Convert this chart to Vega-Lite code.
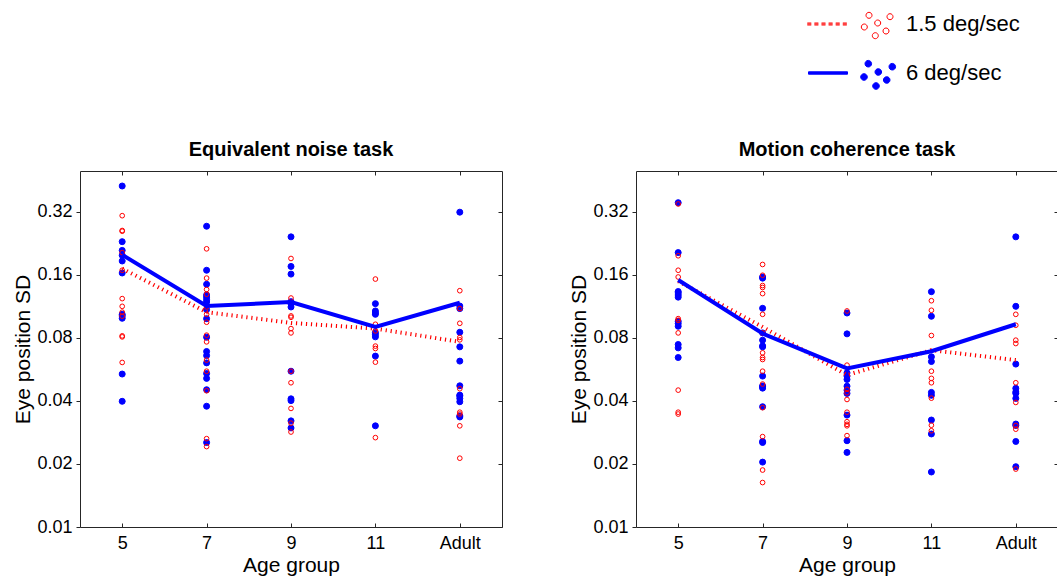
{
"$schema": "https://vega.github.io/schema/vega-lite/v6.json",
"padding": {"left": 12, "top": 13, "right": 0, "bottom": 0},
"datasets": {
"pts": [
{"task":"EN","age":"5","speed":"6 deg/sec","sd":0.424},{"task":"EN","age":"5","speed":"6 deg/sec","sd":0.23},{"task":"EN","age":"5","speed":"6 deg/sec","sd":0.209},{"task":"EN","age":"5","speed":"6 deg/sec","sd":0.198},{"task":"EN","age":"5","speed":"6 deg/sec","sd":0.186},{"task":"EN","age":"5","speed":"6 deg/sec","sd":0.163},{"task":"EN","age":"5","speed":"6 deg/sec","sd":0.1035},{"task":"EN","age":"5","speed":"6 deg/sec","sd":0.1017},{"task":"EN","age":"5","speed":"6 deg/sec","sd":0.0991},{"task":"EN","age":"5","speed":"6 deg/sec","sd":0.0537},{"task":"EN","age":"5","speed":"6 deg/sec","sd":0.0398},
{"task":"EN","age":"7","speed":"6 deg/sec","sd":0.2725},{"task":"EN","age":"7","speed":"6 deg/sec","sd":0.168},{"task":"EN","age":"7","speed":"6 deg/sec","sd":0.144},{"task":"EN","age":"7","speed":"6 deg/sec","sd":0.128},{"task":"EN","age":"7","speed":"6 deg/sec","sd":0.125},{"task":"EN","age":"7","speed":"6 deg/sec","sd":0.1216},{"task":"EN","age":"7","speed":"6 deg/sec","sd":0.1185},{"task":"EN","age":"7","speed":"6 deg/sec","sd":0.109},{"task":"EN","age":"7","speed":"6 deg/sec","sd":0.0987},{"task":"EN","age":"7","speed":"6 deg/sec","sd":0.0805},{"task":"EN","age":"7","speed":"6 deg/sec","sd":0.0688},{"task":"EN","age":"7","speed":"6 deg/sec","sd":0.0658},{"task":"EN","age":"7","speed":"6 deg/sec","sd":0.0607},{"task":"EN","age":"7","speed":"6 deg/sec","sd":0.054},{"task":"EN","age":"7","speed":"6 deg/sec","sd":0.0512},{"task":"EN","age":"7","speed":"6 deg/sec","sd":0.0452},{"task":"EN","age":"7","speed":"6 deg/sec","sd":0.0377},{"task":"EN","age":"7","speed":"6 deg/sec","sd":0.0253},
{"task":"EN","age":"9","speed":"6 deg/sec","sd":0.2425},{"task":"EN","age":"9","speed":"6 deg/sec","sd":0.1752},{"task":"EN","age":"9","speed":"6 deg/sec","sd":0.161},{"task":"EN","age":"9","speed":"6 deg/sec","sd":0.119},{"task":"EN","age":"9","speed":"6 deg/sec","sd":0.1164},{"task":"EN","age":"9","speed":"6 deg/sec","sd":0.1122},{"task":"EN","age":"9","speed":"6 deg/sec","sd":0.0554},{"task":"EN","age":"9","speed":"6 deg/sec","sd":0.0409},{"task":"EN","age":"9","speed":"6 deg/sec","sd":0.0401},{"task":"EN","age":"9","speed":"6 deg/sec","sd":0.0321},{"task":"EN","age":"9","speed":"6 deg/sec","sd":0.0297},
{"task":"EN","age":"11","speed":"6 deg/sec","sd":0.1164},{"task":"EN","age":"11","speed":"6 deg/sec","sd":0.1074},{"task":"EN","age":"11","speed":"6 deg/sec","sd":0.105},{"task":"EN","age":"11","speed":"6 deg/sec","sd":0.1035},{"task":"EN","age":"11","speed":"6 deg/sec","sd":0.0847},{"task":"EN","age":"11","speed":"6 deg/sec","sd":0.0829},{"task":"EN","age":"11","speed":"6 deg/sec","sd":0.0808},{"task":"EN","age":"11","speed":"6 deg/sec","sd":0.0654},{"task":"EN","age":"11","speed":"6 deg/sec","sd":0.0304},
{"task":"EN","age":"Adult","speed":"6 deg/sec","sd":0.318},{"task":"EN","age":"Adult","speed":"6 deg/sec","sd":0.1134},{"task":"EN","age":"Adult","speed":"6 deg/sec","sd":0.1102},{"task":"EN","age":"Adult","speed":"6 deg/sec","sd":0.085},{"task":"EN","age":"Adult","speed":"6 deg/sec","sd":0.0724},{"task":"EN","age":"Adult","speed":"6 deg/sec","sd":0.0619},{"task":"EN","age":"Adult","speed":"6 deg/sec","sd":0.0472},{"task":"EN","age":"Adult","speed":"6 deg/sec","sd":0.0426},{"task":"EN","age":"Adult","speed":"6 deg/sec","sd":0.0422},{"task":"EN","age":"Adult","speed":"6 deg/sec","sd":0.0411},{"task":"EN","age":"Adult","speed":"6 deg/sec","sd":0.0396},{"task":"EN","age":"Adult","speed":"6 deg/sec","sd":0.0339},{"task":"EN","age":"Adult","speed":"6 deg/sec","sd":0.0335},
{"task":"EN","age":"5","speed":"1.5 deg/sec","sd":0.306},{"task":"EN","age":"5","speed":"1.5 deg/sec","sd":0.26},{"task":"EN","age":"5","speed":"1.5 deg/sec","sd":0.258},{"task":"EN","age":"5","speed":"1.5 deg/sec","sd":0.204},{"task":"EN","age":"5","speed":"1.5 deg/sec","sd":0.168},{"task":"EN","age":"5","speed":"1.5 deg/sec","sd":0.123},{"task":"EN","age":"5","speed":"1.5 deg/sec","sd":0.113},{"task":"EN","age":"5","speed":"1.5 deg/sec","sd":0.106},{"task":"EN","age":"5","speed":"1.5 deg/sec","sd":0.1015},{"task":"EN","age":"5","speed":"1.5 deg/sec","sd":0.0817},{"task":"EN","age":"5","speed":"1.5 deg/sec","sd":0.0808},{"task":"EN","age":"5","speed":"1.5 deg/sec","sd":0.061},
{"task":"EN","age":"7","speed":"1.5 deg/sec","sd":0.2126},{"task":"EN","age":"7","speed":"1.5 deg/sec","sd":0.1541},{"task":"EN","age":"7","speed":"1.5 deg/sec","sd":0.136},{"task":"EN","age":"7","speed":"1.5 deg/sec","sd":0.129},{"task":"EN","age":"7","speed":"1.5 deg/sec","sd":0.1122},{"task":"EN","age":"7","speed":"1.5 deg/sec","sd":0.1035},{"task":"EN","age":"7","speed":"1.5 deg/sec","sd":0.0949},{"task":"EN","age":"7","speed":"1.5 deg/sec","sd":0.0823},{"task":"EN","age":"7","speed":"1.5 deg/sec","sd":0.0765},{"task":"EN","age":"7","speed":"1.5 deg/sec","sd":0.0626},{"task":"EN","age":"7","speed":"1.5 deg/sec","sd":0.0554},{"task":"EN","age":"7","speed":"1.5 deg/sec","sd":0.0447},{"task":"EN","age":"7","speed":"1.5 deg/sec","sd":0.0264},{"task":"EN","age":"7","speed":"1.5 deg/sec","sd":0.0242},
{"task":"EN","age":"9","speed":"1.5 deg/sec","sd":0.1912},{"task":"EN","age":"9","speed":"1.5 deg/sec","sd":0.1238},{"task":"EN","age":"9","speed":"1.5 deg/sec","sd":0.1017},{"task":"EN","age":"9","speed":"1.5 deg/sec","sd":0.1002},{"task":"EN","age":"9","speed":"1.5 deg/sec","sd":0.0885},{"task":"EN","age":"9","speed":"1.5 deg/sec","sd":0.0844},{"task":"EN","age":"9","speed":"1.5 deg/sec","sd":0.0554},{"task":"EN","age":"9","speed":"1.5 deg/sec","sd":0.0488},{"task":"EN","age":"9","speed":"1.5 deg/sec","sd":0.0368},{"task":"EN","age":"9","speed":"1.5 deg/sec","sd":0.0313},{"task":"EN","age":"9","speed":"1.5 deg/sec","sd":0.0284},
{"task":"EN","age":"11","speed":"1.5 deg/sec","sd":0.1525},{"task":"EN","age":"11","speed":"1.5 deg/sec","sd":0.0928},{"task":"EN","age":"11","speed":"1.5 deg/sec","sd":0.0863},{"task":"EN","age":"11","speed":"1.5 deg/sec","sd":0.073},{"task":"EN","age":"11","speed":"1.5 deg/sec","sd":0.0711},{"task":"EN","age":"11","speed":"1.5 deg/sec","sd":0.0612},{"task":"EN","age":"11","speed":"1.5 deg/sec","sd":0.0267},
{"task":"EN","age":"Adult","speed":"1.5 deg/sec","sd":0.1342},{"task":"EN","age":"Adult","speed":"1.5 deg/sec","sd":0.1102},{"task":"EN","age":"Adult","speed":"1.5 deg/sec","sd":0.0938},{"task":"EN","age":"Adult","speed":"1.5 deg/sec","sd":0.0803},{"task":"EN","age":"Adult","speed":"1.5 deg/sec","sd":0.0782},{"task":"EN","age":"Adult","speed":"1.5 deg/sec","sd":0.0457},{"task":"EN","age":"Adult","speed":"1.5 deg/sec","sd":0.0353},{"task":"EN","age":"Adult","speed":"1.5 deg/sec","sd":0.0346},{"task":"EN","age":"Adult","speed":"1.5 deg/sec","sd":0.0304},{"task":"EN","age":"Adult","speed":"1.5 deg/sec","sd":0.0213},
{"task":"MC","age":"5","speed":"6 deg/sec","sd":0.353},{"task":"MC","age":"5","speed":"6 deg/sec","sd":0.204},{"task":"MC","age":"5","speed":"6 deg/sec","sd":0.133},{"task":"MC","age":"5","speed":"6 deg/sec","sd":0.131},{"task":"MC","age":"5","speed":"6 deg/sec","sd":0.128},{"task":"MC","age":"5","speed":"6 deg/sec","sd":0.125},{"task":"MC","age":"5","speed":"6 deg/sec","sd":0.0959},{"task":"MC","age":"5","speed":"6 deg/sec","sd":0.0935},{"task":"MC","age":"5","speed":"6 deg/sec","sd":0.0908},{"task":"MC","age":"5","speed":"6 deg/sec","sd":0.0743},{"task":"MC","age":"5","speed":"6 deg/sec","sd":0.0716},{"task":"MC","age":"5","speed":"6 deg/sec","sd":0.0644},
{"task":"MC","age":"7","speed":"6 deg/sec","sd":0.156},{"task":"MC","age":"7","speed":"6 deg/sec","sd":0.154},{"task":"MC","age":"7","speed":"6 deg/sec","sd":0.1106},{"task":"MC","age":"7","speed":"6 deg/sec","sd":0.0844},{"task":"MC","age":"7","speed":"6 deg/sec","sd":0.0779},{"task":"MC","age":"7","speed":"6 deg/sec","sd":0.0732},{"task":"MC","age":"7","speed":"6 deg/sec","sd":0.0724},{"task":"MC","age":"7","speed":"6 deg/sec","sd":0.0525},{"task":"MC","age":"7","speed":"6 deg/sec","sd":0.0467},{"task":"MC","age":"7","speed":"6 deg/sec","sd":0.0471},{"task":"MC","age":"7","speed":"6 deg/sec","sd":0.046},{"task":"MC","age":"7","speed":"6 deg/sec","sd":0.0375},{"task":"MC","age":"7","speed":"6 deg/sec","sd":0.0256},{"task":"MC","age":"7","speed":"6 deg/sec","sd":0.0253},{"task":"MC","age":"7","speed":"6 deg/sec","sd":0.0204},
{"task":"MC","age":"9","speed":"6 deg/sec","sd":0.105},{"task":"MC","age":"9","speed":"6 deg/sec","sd":0.0835},{"task":"MC","age":"9","speed":"6 deg/sec","sd":0.0544},{"task":"MC","age":"9","speed":"6 deg/sec","sd":0.0525},{"task":"MC","age":"9","speed":"6 deg/sec","sd":0.0506},{"task":"MC","age":"9","speed":"6 deg/sec","sd":0.047},{"task":"MC","age":"9","speed":"6 deg/sec","sd":0.045},{"task":"MC","age":"9","speed":"6 deg/sec","sd":0.0434},{"task":"MC","age":"9","speed":"6 deg/sec","sd":0.0342},{"task":"MC","age":"9","speed":"6 deg/sec","sd":0.0258},{"task":"MC","age":"9","speed":"6 deg/sec","sd":0.0227},
{"task":"MC","age":"11","speed":"6 deg/sec","sd":0.1327},{"task":"MC","age":"11","speed":"6 deg/sec","sd":0.1013},{"task":"MC","age":"11","speed":"6 deg/sec","sd":0.0649},{"task":"MC","age":"11","speed":"6 deg/sec","sd":0.0616},{"task":"MC","age":"11","speed":"6 deg/sec","sd":0.0439},{"task":"MC","age":"11","speed":"6 deg/sec","sd":0.0425},{"task":"MC","age":"11","speed":"6 deg/sec","sd":0.0324},{"task":"MC","age":"11","speed":"6 deg/sec","sd":0.0278},{"task":"MC","age":"11","speed":"6 deg/sec","sd":0.0183},
{"task":"MC","age":"Adult","speed":"6 deg/sec","sd":0.2425},{"task":"MC","age":"Adult","speed":"6 deg/sec","sd":0.113},{"task":"MC","age":"Adult","speed":"6 deg/sec","sd":0.0599},{"task":"MC","age":"Adult","speed":"6 deg/sec","sd":0.0459},{"task":"MC","age":"Adult","speed":"6 deg/sec","sd":0.0434},{"task":"MC","age":"Adult","speed":"6 deg/sec","sd":0.0441},{"task":"MC","age":"Adult","speed":"6 deg/sec","sd":0.0411},{"task":"MC","age":"Adult","speed":"6 deg/sec","sd":0.031},{"task":"MC","age":"Adult","speed":"6 deg/sec","sd":0.0305},{"task":"MC","age":"Adult","speed":"6 deg/sec","sd":0.0256},{"task":"MC","age":"Adult","speed":"6 deg/sec","sd":0.0194},
{"task":"MC","age":"5","speed":"1.5 deg/sec","sd":0.348},{"task":"MC","age":"5","speed":"1.5 deg/sec","sd":0.197},{"task":"MC","age":"5","speed":"1.5 deg/sec","sd":0.168},{"task":"MC","age":"5","speed":"1.5 deg/sec","sd":0.156},{"task":"MC","age":"5","speed":"1.5 deg/sec","sd":0.0987},{"task":"MC","age":"5","speed":"1.5 deg/sec","sd":0.0969},{"task":"MC","age":"5","speed":"1.5 deg/sec","sd":0.0844},{"task":"MC","age":"5","speed":"1.5 deg/sec","sd":0.045},{"task":"MC","age":"5","speed":"1.5 deg/sec","sd":0.0353},{"task":"MC","age":"5","speed":"1.5 deg/sec","sd":0.0346},
{"task":"MC","age":"7","speed":"1.5 deg/sec","sd":0.179},{"task":"MC","age":"7","speed":"1.5 deg/sec","sd":0.159},{"task":"MC","age":"7","speed":"1.5 deg/sec","sd":0.142},{"task":"MC","age":"7","speed":"1.5 deg/sec","sd":0.139},{"task":"MC","age":"7","speed":"1.5 deg/sec","sd":0.13},{"task":"MC","age":"7","speed":"1.5 deg/sec","sd":0.1035},{"task":"MC","age":"7","speed":"1.5 deg/sec","sd":0.0844},{"task":"MC","age":"7","speed":"1.5 deg/sec","sd":0.0678},{"task":"MC","age":"7","speed":"1.5 deg/sec","sd":0.0644},{"task":"MC","age":"7","speed":"1.5 deg/sec","sd":0.063},{"task":"MC","age":"7","speed":"1.5 deg/sec","sd":0.0554},{"task":"MC","age":"7","speed":"1.5 deg/sec","sd":0.0481},{"task":"MC","age":"7","speed":"1.5 deg/sec","sd":0.0371},{"task":"MC","age":"7","speed":"1.5 deg/sec","sd":0.027},{"task":"MC","age":"7","speed":"1.5 deg/sec","sd":0.0187},{"task":"MC","age":"7","speed":"1.5 deg/sec","sd":0.0163},
{"task":"MC","age":"9","speed":"1.5 deg/sec","sd":0.1074},{"task":"MC","age":"9","speed":"1.5 deg/sec","sd":0.0592},{"task":"MC","age":"9","speed":"1.5 deg/sec","sd":0.0454},{"task":"MC","age":"9","speed":"1.5 deg/sec","sd":0.0437},{"task":"MC","age":"9","speed":"1.5 deg/sec","sd":0.0406},{"task":"MC","age":"9","speed":"1.5 deg/sec","sd":0.0353},{"task":"MC","age":"9","speed":"1.5 deg/sec","sd":0.0318},{"task":"MC","age":"9","speed":"1.5 deg/sec","sd":0.0309},{"task":"MC","age":"9","speed":"1.5 deg/sec","sd":0.0304},{"task":"MC","age":"9","speed":"1.5 deg/sec","sd":0.0273},
{"task":"MC","age":"11","speed":"1.5 deg/sec","sd":0.1202},{"task":"MC","age":"11","speed":"1.5 deg/sec","sd":0.1082},{"task":"MC","age":"11","speed":"1.5 deg/sec","sd":0.082},{"task":"MC","age":"11","speed":"1.5 deg/sec","sd":0.0554},{"task":"MC","age":"11","speed":"1.5 deg/sec","sd":0.0512},{"task":"MC","age":"11","speed":"1.5 deg/sec","sd":0.0488},{"task":"MC","age":"11","speed":"1.5 deg/sec","sd":0.0412},{"task":"MC","age":"11","speed":"1.5 deg/sec","sd":0.0306},{"task":"MC","age":"11","speed":"1.5 deg/sec","sd":0.0288},
{"task":"MC","age":"Adult","speed":"1.5 deg/sec","sd":0.1035},{"task":"MC","age":"Adult","speed":"1.5 deg/sec","sd":0.0918},{"task":"MC","age":"Adult","speed":"1.5 deg/sec","sd":0.0779},{"task":"MC","age":"Adult","speed":"1.5 deg/sec","sd":0.0751},{"task":"MC","age":"Adult","speed":"1.5 deg/sec","sd":0.0488},{"task":"MC","age":"Adult","speed":"1.5 deg/sec","sd":0.0393},{"task":"MC","age":"Adult","speed":"1.5 deg/sec","sd":0.0305},{"task":"MC","age":"Adult","speed":"1.5 deg/sec","sd":0.0293},{"task":"MC","age":"Adult","speed":"1.5 deg/sec","sd":0.0189}
],
"means": [
{"task":"EN","age":"5","speed":"6 deg/sec","sd":0.199},{"task":"EN","age":"7","speed":"6 deg/sec","sd":0.1134},{"task":"EN","age":"9","speed":"6 deg/sec","sd":0.1185},{"task":"EN","age":"11","speed":"6 deg/sec","sd":0.0901},{"task":"EN","age":"Adult","speed":"6 deg/sec","sd":0.1176},
{"task":"EN","age":"5","speed":"1.5 deg/sec","sd":0.171},{"task":"EN","age":"7","speed":"1.5 deg/sec","sd":0.106},{"task":"EN","age":"9","speed":"1.5 deg/sec","sd":0.0942},{"task":"EN","age":"11","speed":"1.5 deg/sec","sd":0.0885},{"task":"EN","age":"Adult","speed":"1.5 deg/sec","sd":0.0765},
{"task":"MC","age":"5","speed":"6 deg/sec","sd":0.151},{"task":"MC","age":"7","speed":"6 deg/sec","sd":0.0838},{"task":"MC","age":"9","speed":"6 deg/sec","sd":0.0571},{"task":"MC","age":"11","speed":"6 deg/sec","sd":0.069},{"task":"MC","age":"Adult","speed":"6 deg/sec","sd":0.0928},
{"task":"MC","age":"5","speed":"1.5 deg/sec","sd":0.149},{"task":"MC","age":"7","speed":"1.5 deg/sec","sd":0.0901},{"task":"MC","age":"9","speed":"1.5 deg/sec","sd":0.0531},{"task":"MC","age":"11","speed":"1.5 deg/sec","sd":0.0698},{"task":"MC","age":"Adult","speed":"1.5 deg/sec","sd":0.0626}
]
},
"bounds": "flush",
"spacing": 134,
"hconcat": [
{
"width": 422, "height": 356,
"title": {"text": "Equivalent noise task"},
"resolve": {"axis": {"x": "independent", "y": "independent"}},
"layer": [
{"data": {"name": "pts"}, "transform": [{"filter": "datum.task === 'EN' && datum.speed === '6 deg/sec'"}],
 "mark": {"type": "point", "shape": "circle", "filled": true, "size": 36, "strokeWidth": 1, "opacity": 1},
 "encoding": {
  "x": {"field": "age", "type": "ordinal", "scale": {"type": "point", "domain": ["5","7","9","11","Adult"], "padding": 0.5}, "axis": {"orient": "bottom", "title": "Age group", "labelAngle": 0, "tickSize": -4, "labelPadding": 11, "titlePadding": 2}},
  "y": {"field": "sd", "type": "quantitative", "scale": {"type": "log", "domain": [0.01, 0.5], "nice": false}, "axis": {"orient": "left", "title": "Eye position SD", "values": [0.01,0.02,0.04,0.08,0.16,0.32], "format": ".2f", "tickSize": 4, "labelPadding": 4, "titlePadding": 3}},
  "fill": {"field": "speed", "type": "nominal", "scale": {"domain": ["1.5 deg/sec","6 deg/sec"], "range": ["transparent","#0000ff"]}},
  "stroke": {"field": "speed", "type": "nominal", "scale": {"domain": ["1.5 deg/sec","6 deg/sec"], "range": ["#ff0000","#0000ff"]}}
 }},
{"data": {"name": "pts"}, "transform": [{"filter": "datum.task === 'EN' && datum.speed === '1.5 deg/sec'"}],
 "mark": {"type": "point", "shape": "circle", "filled": true, "size": 22, "strokeWidth": 1, "opacity": 1},
 "encoding": {
  "x": {"field": "age", "type": "ordinal", "scale": {"type": "point", "domain": ["5","7","9","11","Adult"], "padding": 0.5}, "axis": {"orient": "top", "title": null, "labels": false, "tickSize": -4}},
  "y": {"field": "sd", "type": "quantitative", "scale": {"type": "log", "domain": [0.01, 0.5], "nice": false}, "axis": {"orient": "right", "title": null, "labels": false, "values": [0.01,0.02,0.04,0.08,0.16,0.32], "tickSize": -4}},
  "fill": {"field": "speed", "type": "nominal", "scale": {"domain": ["1.5 deg/sec","6 deg/sec"], "range": ["transparent","#0000ff"]}},
  "stroke": {"field": "speed", "type": "nominal", "scale": {"domain": ["1.5 deg/sec","6 deg/sec"], "range": ["#ff0000","#0000ff"]}}
 }},
{"data": {"name": "means"}, "transform": [{"filter": "datum.task === 'EN' && datum.speed === '1.5 deg/sec'"}],
 "mark": {"type": "line", "stroke": "#ff0000", "strokeWidth": 4, "strokeDash": [1.2, 3.8]},
 "encoding": {"x": {"field": "age", "type": "ordinal", "scale": {"type": "point", "domain": ["5","7","9","11","Adult"], "padding": 0.5}, "axis": null}, "y": {"field": "sd", "type": "quantitative", "scale": {"type": "log", "domain": [0.01, 0.5], "nice": false}, "axis": null}}},
{"data": {"name": "means"}, "transform": [{"filter": "datum.task === 'EN' && datum.speed === '6 deg/sec'"}],
 "mark": {"type": "line", "stroke": "#0000ff", "strokeWidth": 4},
 "encoding": {"x": {"field": "age", "type": "ordinal", "scale": {"type": "point", "domain": ["5","7","9","11","Adult"], "padding": 0.5}, "axis": null}, "y": {"field": "sd", "type": "quantitative", "scale": {"type": "log", "domain": [0.01, 0.5], "nice": false}, "axis": null}}},
{"data": {"name": "means"}, "transform": [{"filter": "datum.task === 'EN'"}],
 "mark": {"type": "point", "filled": true, "size": 4, "strokeWidth": 1, "opacity": 0},
 "encoding": {
  "x": {"field": "age", "type": "ordinal", "scale": {"type": "point", "domain": ["5","7","9","11","Adult"], "padding": 0.5}, "axis": null},
  "y": {"field": "sd", "type": "quantitative", "scale": {"type": "log", "domain": [0.01, 0.5], "nice": false}, "axis": null},
  "shape": {"field": "speed", "type": "nominal", "scale": {"domain": ["1.5 deg/sec","6 deg/sec"], "range": ["M-70.7,-1h4M-70.7,0h4M-70.7,1h4M-63.6,-1h4M-63.6,0h4M-63.6,1h4M-56.5,-1h4M-56.5,0h4M-56.5,1h4M-49.4,-1h4M-49.4,0h4M-49.4,1h4M-42.3,-1h4M-42.3,0h4M-42.3,1h4M-35.2,-1h4M-35.2,0h4M-35.2,1h4M-12,-8.7a3,3,0,1,0,6,0a3,3,0,1,0,-6,0zM9,-7.3a3,3,0,1,0,6,0a3,3,0,1,0,-6,0zM-3.3,-1a3,3,0,1,0,6,0a3,3,0,1,0,-6,0zM-16.7,3a3,3,0,1,0,6,0a3,3,0,1,0,-6,0zM5,7a3,3,0,1,0,6,0a3,3,0,1,0,-6,0zM-5.7,11.7a3,3,0,1,0,6,0a3,3,0,1,0,-6,0z", "M-69.5,-1.2H-30.5V1.2H-69.5ZM-13,-9.3a3.3,3.3,0,1,0,6.6,0a3.3,3.3,0,1,0,-6.6,0zM11,-6.3a3.3,3.3,0,1,0,6.6,0a3.3,3.3,0,1,0,-6.6,0zM-3,-1a3.3,3.3,0,1,0,6.6,0a3.3,3.3,0,1,0,-6.6,0zM-17.3,4a3.3,3.3,0,1,0,6.6,0a3.3,3.3,0,1,0,-6.6,0zM5.4,7a3.3,3.3,0,1,0,6.6,0a3.3,3.3,0,1,0,-6.6,0zM-5.3,13a3.3,3.3,0,1,0,6.6,0a3.3,3.3,0,1,0,-6.6,0z"]}, "legend": {"title": null, "symbolOpacity": 1}},
  "fill": {"field": "speed", "type": "nominal", "scale": {"domain": ["1.5 deg/sec","6 deg/sec"], "range": ["transparent","#0000ff"]}, "legend": {"title": null, "symbolOpacity": 1}},
  "stroke": {"field": "speed", "type": "nominal", "scale": {"domain": ["1.5 deg/sec","6 deg/sec"], "range": ["#ff0000","#0000ff"]}, "legend": {"title": null, "symbolOpacity": 1}}
 }}
]
},
{
"width": 422, "height": 356,
"title": {"text": "Motion coherence task"},
"resolve": {"axis": {"x": "independent", "y": "independent"}},
"layer": [
{"data": {"name": "pts"}, "transform": [{"filter": "datum.task === 'MC' && datum.speed === '6 deg/sec'"}],
 "mark": {"type": "point", "shape": "circle", "filled": true, "size": 36, "strokeWidth": 1, "opacity": 1},
 "encoding": {
  "x": {"field": "age", "type": "ordinal", "scale": {"type": "point", "domain": ["5","7","9","11","Adult"], "padding": 0.5}, "axis": {"orient": "bottom", "title": "Age group", "labelAngle": 0, "tickSize": -4, "labelPadding": 11, "titlePadding": 2}},
  "y": {"field": "sd", "type": "quantitative", "scale": {"type": "log", "domain": [0.01, 0.5], "nice": false}, "axis": {"orient": "left", "title": "Eye position SD", "values": [0.01,0.02,0.04,0.08,0.16,0.32], "format": ".2f", "tickSize": 4, "labelPadding": 4, "titlePadding": 3}},
  "fill": {"field": "speed", "type": "nominal", "scale": {"domain": ["1.5 deg/sec","6 deg/sec"], "range": ["transparent","#0000ff"]}},
  "stroke": {"field": "speed", "type": "nominal", "scale": {"domain": ["1.5 deg/sec","6 deg/sec"], "range": ["#ff0000","#0000ff"]}}
 }},
{"data": {"name": "pts"}, "transform": [{"filter": "datum.task === 'MC' && datum.speed === '1.5 deg/sec'"}],
 "mark": {"type": "point", "shape": "circle", "filled": true, "size": 22, "strokeWidth": 1, "opacity": 1},
 "encoding": {
  "x": {"field": "age", "type": "ordinal", "scale": {"type": "point", "domain": ["5","7","9","11","Adult"], "padding": 0.5}, "axis": {"orient": "top", "title": null, "labels": false, "tickSize": -4}},
  "y": {"field": "sd", "type": "quantitative", "scale": {"type": "log", "domain": [0.01, 0.5], "nice": false}, "axis": {"orient": "right", "title": null, "labels": false, "values": [0.01,0.02,0.04,0.08,0.16,0.32], "tickSize": -4}},
  "fill": {"field": "speed", "type": "nominal", "scale": {"domain": ["1.5 deg/sec","6 deg/sec"], "range": ["transparent","#0000ff"]}},
  "stroke": {"field": "speed", "type": "nominal", "scale": {"domain": ["1.5 deg/sec","6 deg/sec"], "range": ["#ff0000","#0000ff"]}}
 }},
{"data": {"name": "means"}, "transform": [{"filter": "datum.task === 'MC' && datum.speed === '1.5 deg/sec'"}],
 "mark": {"type": "line", "stroke": "#ff0000", "strokeWidth": 4, "strokeDash": [1.2, 3.8]},
 "encoding": {"x": {"field": "age", "type": "ordinal", "scale": {"type": "point", "domain": ["5","7","9","11","Adult"], "padding": 0.5}, "axis": null}, "y": {"field": "sd", "type": "quantitative", "scale": {"type": "log", "domain": [0.01, 0.5], "nice": false}, "axis": null}}},
{"data": {"name": "means"}, "transform": [{"filter": "datum.task === 'MC' && datum.speed === '6 deg/sec'"}],
 "mark": {"type": "line", "stroke": "#0000ff", "strokeWidth": 4},
 "encoding": {"x": {"field": "age", "type": "ordinal", "scale": {"type": "point", "domain": ["5","7","9","11","Adult"], "padding": 0.5}, "axis": null}, "y": {"field": "sd", "type": "quantitative", "scale": {"type": "log", "domain": [0.01, 0.5], "nice": false}, "axis": null}}}
]
}
],
"config": {
 "font": "Liberation Sans",
 "view": {"stroke": "#262626", "strokeWidth": 1},
 "axis": {"grid": false, "domain": false, "labelFont": "Liberation Sans", "labelFontSize": 18, "labelColor": "#000", "titleFont": "Liberation Sans", "titleFontSize": 21, "titleFontWeight": "normal", "titleColor": "#000", "tickColor": "#262626", "tickWidth": 1},
 "title": {"font": "Liberation Sans", "fontSize": 20, "fontWeight": "bold", "color": "#000", "baseline": "alphabetic", "offset": 11, "anchor": "middle"},
 "legend": {"orient": "none", "legendX": 787, "legendY": -158, "padding": 0, "labelFont": "Liberation Sans", "labelFontSize": 22, "labelColor": "#000", "labelOffset": 17, "rowPadding": 17, "symbolSize": 4, "symbolStrokeWidth": 1, "symbolOpacity": 1, "labelLimit": 0}
}
}
